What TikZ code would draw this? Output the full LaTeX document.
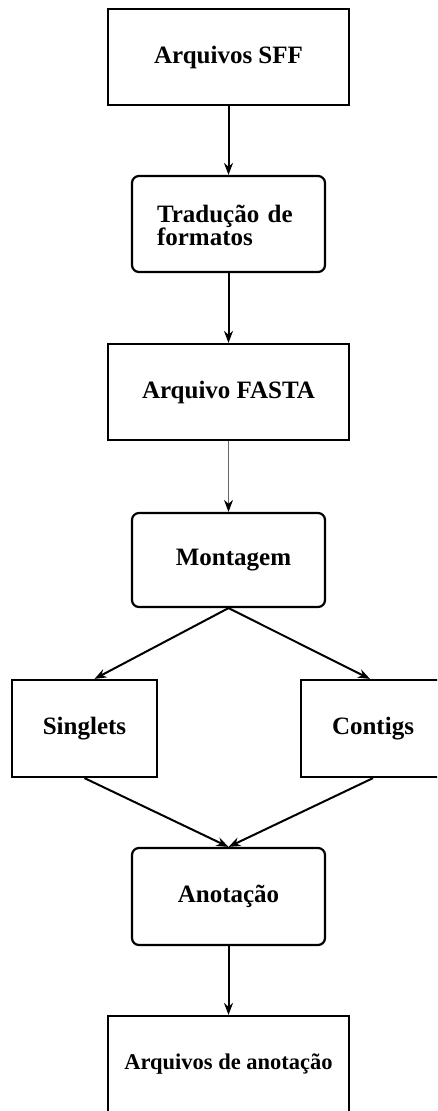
\documentclass[tikz,border=0pt]{standalone}
\usepackage{fontspec}
\setmainfont{Liberation Serif}
\usetikzlibrary{arrows.meta,calc}
\tikzset{
  box/.style={draw=black, line width=2.2pt, fill=white, font=\bfseries\fontsize{25}{23}\selectfont, inner sep=0pt, align=center},
  sqbox/.style={box, rectangle},
  rbox/.style={box, rectangle, rounded corners=7pt},
  conn/.style={line width=2pt, draw=black, -{Stealth[length=12pt,width=9pt]}},
  thinconn/.style={line width=1.2pt, draw=black!60, -{Stealth[length=12pt,width=9pt,color=black]}}
}
\begin{document}
\begin{tikzpicture}[x=1pt,y=-1pt]
\useasboundingbox (0,0) rectangle (437,1111);
\clip (0,0) rectangle (437,1111);
\node[sqbox, minimum width=241pt, minimum height=96pt] (sff) at (228.5,57) {Arquivos SFF};
\node[rbox, minimum width=193pt, minimum height=96pt, text width=143pt, align=left] (trad) at (228.5,224) {\rule{0pt}{20pt}Tradução de\\formatos};
\node[sqbox, minimum width=241pt, minimum height=96pt] (fasta) at (228.5,392) {Arquivo FASTA};
\node[rbox, minimum width=193pt, minimum height=94pt] (mont) at (228.5,560) {\hspace*{10pt}Montagem};
\node[sqbox, minimum width=145pt, minimum height=97pt] (sing) at (84.5,728.5) {Singlets};
\node[sqbox, minimum width=144pt, minimum height=97pt] (cont) at (373,728.5) {Contigs};
\node[rbox, minimum width=193pt, minimum height=97pt] (anot) at (228.5,896.5) {Anotação};
\node[sqbox, minimum width=241pt, minimum height=96pt, font=\bfseries\fontsize{22.5}{24}\selectfont] (arqan) at (228.5,1064) {Arquivos de anotação};
\draw[conn] (sff.south) -- (trad.north);
\draw[conn] (trad.south) -- (fasta.north);
\draw[thinconn] (fasta.south) -- (mont.north);
\draw[conn] (mont.south) -- ([xshift=10pt]sing.north);
\draw[conn] (mont.south) -- ([xshift=-3pt]cont.north);
\draw[conn] (sing.south) -- (anot.north);
\draw[conn] (cont.south) -- (anot.north);
\draw[conn] (anot.south) -- (arqan.north);
\end{tikzpicture}
\end{document}
